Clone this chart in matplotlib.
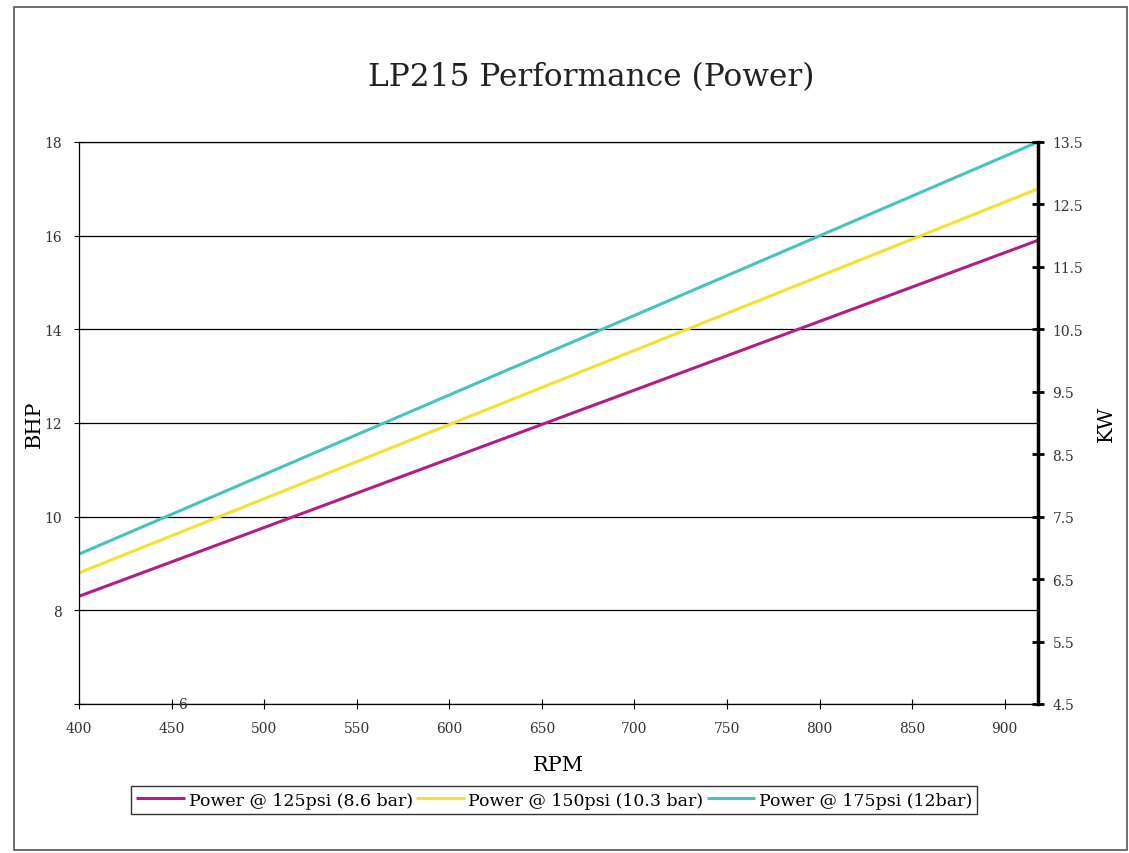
import numpy as np
import matplotlib
matplotlib.use("Agg")
import matplotlib.pyplot as plt
from matplotlib.patches import Rectangle

plt.rcParams['font.family'] = ['DejaVu Serif']

# Дані
rpm = [400, 918]
bhp_125 = [8.3, 15.9]
bhp_150 = [8.8, 17.0]
bhp_175 = [9.2, 18.0]
labels = ['Power @ 125psi (8.6 bar)', 'Power @ 150psi (10.3 bar)', 'Power @ 175psi (12bar)']
colors = ['#B41E82', '#F2E12E', '#46C3BE']
x_ticks = [400, 450, 500, 550, 600, 650, 700, 750, 800, 850, 900]
y_ticks = [8, 10, 12, 14, 16, 18]
kw_ticks = [4.5, 5.5, 6.5, 7.5, 8.5, 9.5, 10.5, 11.5, 12.5, 13.5]

fig = plt.figure(figsize=(11.29, 8.54), dpi=100)
ax = fig.add_axes([0.070, 0.1745, 0.8494, 0.6581])

# Рамка навколо всього рисунка
fig.patches.append(Rectangle((0.0125, 0.003), 0.986, 0.988, transform=fig.transFigure,
                             fill=False, edgecolor='#555555', linewidth=1.2))

for y, lab, c in zip([bhp_125, bhp_150, bhp_175], labels, colors):
    ax.plot(rpm, y, color=c, linewidth=2.2, label=lab, solid_capstyle='butt')

ax.set_xlim(400, 918)
ax.set_ylim(6, 18)
ax.set_xticks(x_ticks)
ax.set_yticks([6] + y_ticks)
ax.set_yticklabels([''] + [str(v) for v in y_ticks])
ax.text(456, 6.0, '6', fontsize=10, color='#333333', va='center', ha='center')
ax.yaxis.grid(True, color='black', linewidth=0.9)
ax.set_axisbelow(True)
ax.tick_params(axis='both', direction='inout', length=7, labelsize=10, labelcolor='#333333', pad=9)
for s in ['top', 'left', 'bottom']:
    ax.spines[s].set_linewidth(0.9)
ax.spines['right'].set_visible(False)

ax.set_xlabel('RPM', fontsize=15, labelpad=14)
ax.set_ylabel('BHP', fontsize=15, labelpad=0)
fig.text(0.5235, 0.909, 'LP215 Performance (Power)', fontsize=22.5, color='#222222',
         ha='center', va='center')

# Права вісь у кВт
ax2 = ax.twinx()
ax2.set_ylim(6 * 0.75, 18 * 0.75)
ax2.set_yticks(kw_ticks)
ax2.set_yticklabels([str(v) for v in kw_ticks])
ax2.tick_params(axis='y', direction='inout', length=9, width=2, labelsize=10,
                labelcolor='#333333', pad=6)
ax2.spines['right'].set_linewidth(2.5)
for s in ['top', 'left', 'bottom']:
    ax2.spines[s].set_visible(False)
ax2.set_ylabel('KW', fontsize=15, labelpad=10)

handles, labs = ax.get_legend_handles_labels()
leg = fig.legend(handles, labs, loc='center', bbox_to_anchor=(0.491, 0.062), ncol=3,
                 fontsize=12.5, frameon=True, fancybox=False, edgecolor='black',
                 handlelength=2.8, handletextpad=0.2, columnspacing=0.2,
                 borderpad=0.3, borderaxespad=0)
leg.get_frame().set_linewidth(1.0)

fig.savefig('out.png', dpi=100)
